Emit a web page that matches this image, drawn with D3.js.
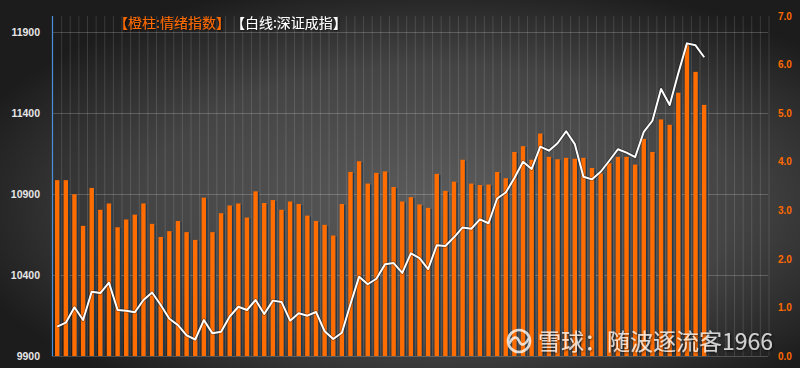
<!DOCTYPE html>
<html>
<head>
<meta charset="utf-8">
<script src="https://cdn.jsdelivr.net/npm/d3@7/dist/d3.min.js"></script>
<style>
  html, body { margin: 0; padding: 0; background: #2a2a2a; }
  svg { display: block; }
</style>
</head>
<body>
<div id="chart"></div>
<script>
// 情绪指数 (bars, right axis) and 深证成指 (line, left axis)
var mood = [3.62, 3.62, 3.33, 2.68, 3.46, 3.01, 3.14, 2.65, 2.81, 2.91,
            3.14, 2.72, 2.45, 2.57, 2.78, 2.55, 2.39, 3.26, 2.55, 2.94,
            3.10, 3.14, 2.85, 3.39, 3.15, 3.21, 3.01, 3.18, 3.13, 2.89,
            2.78, 2.70, 2.48, 3.13, 3.79, 4.01, 3.55, 3.77, 3.80, 3.48,
            3.18, 3.27, 3.12, 3.05, 3.75, 3.40, 3.59, 4.04, 3.55, 3.52,
            3.53, 3.79, 3.66, 4.20, 4.32, 4.04, 4.58, 4.10, 4.05, 4.08,
            4.06, 4.08, 3.87, 3.76, 3.97, 4.10, 4.10, 3.94, 4.47, 4.20,
            4.87, 4.76, 5.42, 6.40, 5.85, 5.17];
var szIndex = [10081, 10106, 10201, 10122, 10297, 10289, 10353, 10184, 10180, 10170,
               10246, 10292, 10215, 10130, 10091, 10027, 10002, 10122, 10040, 10050,
               10144, 10204, 10184, 10246, 10159, 10242, 10234, 10118, 10164, 10149,
               10172, 10053, 10005, 10044, 10221, 10390, 10343, 10377, 10466, 10474,
               10413, 10534, 10505, 10437, 10584, 10579, 10633, 10694, 10686, 10744,
               10720, 10873, 10910, 11000, 11100, 11055, 11193, 11168, 11214, 11288,
               11209, 11007, 10991, 11038, 11106, 11177, 11156, 11129, 11285, 11353,
               11549, 11450, 11646, 11831, 11819, 11745];
var slotCount = 83; // 图表预留的总格数（右侧留空）
var leftTicks = [9900, 10400, 10900, 11400, 11900];
var rightTicks = [0, 1, 2, 3, 4, 5, 6, 7];

var svgWidth = 800;
var svgHeight = 368;
var margin = { top: 16, right: 32, bottom: 12, left: 52 };
var width = svgWidth - margin.left - margin.right;
var height = svgHeight - margin.top - margin.bottom;

var svg = d3.select("#chart").append("svg")
  .attr("width", svgWidth)
  .attr("height", svgHeight);

// background gradient
var defs = svg.append("defs");
var bg = defs.append("radialGradient")
  .attr("id", "bg")
  .attr("cx", "55%").attr("cy", "55%").attr("r", "62%");
bg.append("stop").attr("offset", "0%").attr("stop-color", "#5b5b5b");
bg.append("stop").attr("offset", "60%").attr("stop-color", "#444444");
bg.append("stop").attr("offset", "100%").attr("stop-color", "#1c1c1c");

var shadow = defs.append("filter").attr("id", "txtShadow")
  .attr("x", "-10%").attr("y", "-30%").attr("width", "120%").attr("height", "160%");
shadow.append("feDropShadow")
  .attr("dx", 1).attr("dy", 1).attr("stdDeviation", 0.8)
  .attr("flood-color", "#000").attr("flood-opacity", 0.8);

svg.append("rect")
  .attr("width", svgWidth).attr("height", svgHeight)
  .attr("fill", "url(#bg)");

var chart = svg.append("g").attr("transform", `translate(${margin.left}, ${margin.top})`);

// scales
var x = d3.scaleBand().domain(d3.range(slotCount)).range([0, width]).paddingInner(0);
var yLeft = d3.scaleLinear().domain([9900, 12000]).range([height, 0]);
var yRight = d3.scaleLinear().domain([0, 7]).range([height, 0]);

// vertical grid
chart.append("g").selectAll("line")
  .data(d3.range(1, slotCount + 1))
  .join("line")
  .attr("x1", d => x.step() * d + 1)
  .attr("x2", d => x.step() * d + 1)
  .attr("y1", 0).attr("y2", height)
  .attr("stroke", "rgba(255,255,255,0.13)")
  .attr("stroke-width", 1);

// horizontal grid from left ticks
chart.append("g").selectAll("line")
  .data(leftTicks)
  .join("line")
  .attr("x1", 0).attr("x2", width)
  .attr("y1", d => Math.round(yLeft(d)) + 0.5)
  .attr("y2", d => Math.round(yLeft(d)) + 0.5)
  .attr("stroke", "rgba(255,255,255,0.2)")
  .attr("stroke-width", 1);

// left axis
var leftAxis = d3.axisLeft(yLeft).tickValues(leftTicks).tickSize(0).tickPadding(12)
  .tickFormat(d3.format("d"));
var gl = chart.append("g").call(leftAxis);
gl.select(".domain").remove();
gl.selectAll("text")
  .attr("fill", "#e6e6e6")
  .style("font-family", "'Liberation Sans', Arial, sans-serif")
  .style("font-size", "10.5px")
  .style("font-weight", "bold");
chart.append("line")
  .attr("x1", 0.5).attr("x2", 0.5).attr("y1", 0).attr("y2", height)
  .attr("stroke", "#4a90d9").attr("stroke-width", 1.2);

// right axis
var rightAxis = d3.axisRight(yRight).tickValues(rightTicks).tickSize(0).tickPadding(10)
  .tickFormat(d3.format(".1f"));
var gr = chart.append("g").attr("transform", `translate(${width}, 0)`).call(rightAxis);
gr.select(".domain").remove();
gr.selectAll("text")
  .attr("fill", "#ff6a00")
  .style("font-family", "'Liberation Sans', Arial, sans-serif")
  .style("font-size", "10px")
  .style("font-weight", "bold");

// bars
var barW = 4.4;
var bars = chart.append("g");
bars.selectAll("rect.sh")
  .data(mood)
  .join("rect")
  .attr("class", "sh")
  .attr("x", (d, i) => x(i) + 3 + 1.4)
  .attr("y", d => yRight(d) + 1)
  .attr("width", barW)
  .attr("height", d => height - yRight(d) - 1)
  .attr("fill", "#22384b");
bars.selectAll("rect.bar")
  .data(mood)
  .join("rect")
  .attr("class", "bar")
  .attr("x", (d, i) => x(i) + 3)
  .attr("y", d => yRight(d))
  .attr("width", barW)
  .attr("height", d => height - yRight(d))
  .attr("fill", "#ff6d00");

// line
var line = d3.line()
  .x((d, i) => x(i) + 3 + barW / 2)
  .y(d => yLeft(d));
chart.append("path")
  .datum(szIndex)
  .attr("d", line)
  .attr("fill", "none")
  .attr("stroke", "rgba(0,0,0,0.35)")
  .attr("stroke-width", 3.5)
  .attr("stroke-linejoin", "round");
chart.append("path")
  .datum(szIndex)
  .attr("d", line)
  .attr("fill", "none")
  .attr("stroke", "#ffffff")
  .attr("stroke-width", 2)
  .attr("stroke-linejoin", "round");

// title
var title = svg.append("text")
  .attr("x", 114).attr("y", 28)
  .attr("filter", "url(#txtShadow)")
  .style("font-family", "'Noto Sans CJK SC', sans-serif")
  .style("font-size", "14px");
title.append("tspan").attr("fill", "#ff6a00").text("【橙柱:情绪指数】");
title.append("tspan").attr("fill", "#ffffff").attr("dx", 8).text("【白线:深证成指】");

// watermark
var wm = svg.append("g").attr("opacity", 0.78);
wm.append("circle")
  .attr("cx", 519).attr("cy", 341).attr("r", 11)
  .attr("fill", "none").attr("stroke", "#ffffff").attr("stroke-width", 2.6);
wm.append("path")
  .attr("d", "M509,344 C513,336 517,336 519,341 C521,346 525,346 529,338")
  .attr("fill", "none").attr("stroke", "#ffffff").attr("stroke-width", 2.6);
wm.append("text")
  .attr("x", 538).attr("y", 350)
  .attr("fill", "#ffffff")
  .attr("filter", "url(#txtShadow)")
  .style("font-family", "'Noto Sans CJK SC', sans-serif")
  .style("font-size", "23px")
  .text("雪球：随波逐流客1966");
</script>
</body>
</html>
